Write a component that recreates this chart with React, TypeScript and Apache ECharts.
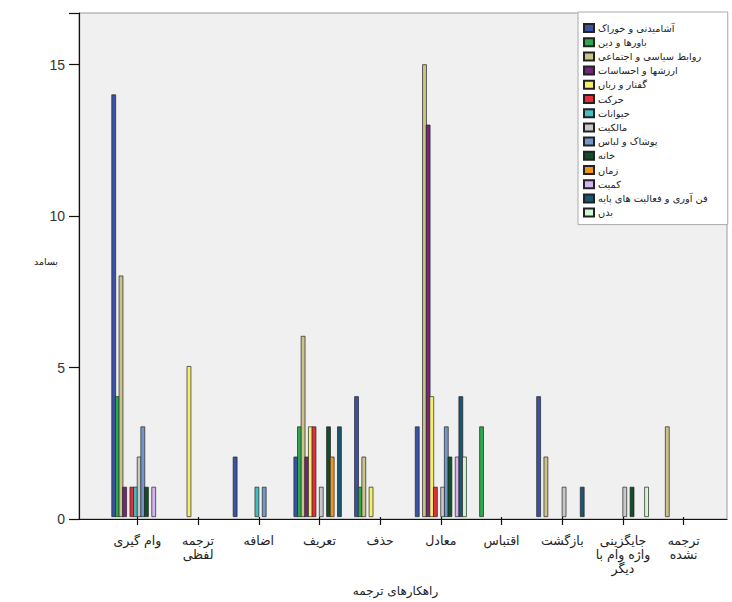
import React, { useEffect, useRef } from "react";
import * as echarts from "echarts";

const categories = [
  "وام گیری",
  "ترجمه\nلفظی",
  "اضافه",
  "تعریف",
  "حذف",
  "معادل",
  "اقتباس",
  "بازگشت",
  "جایگزینی\nواژه وام با\nدیگر",
  "ترجمه\nنشده",
];

const seriesNames = [
  "آشامیدنی و خوراک",
  "باورها و دین",
  "روابط سیاسی و اجتماعی",
  "ارزشها و احساسات",
  "گفتار و زبان",
  "حرکت",
  "حیوانات",
  "مالکیت",
  "پوشاک و لباس",
  "خانه",
  "زمان",
  "کمیت",
  "فن آوری و فعالیت های پایه",
  "بدن",
];

const foodValues = [14, 0, 2, 2, 4, 3, 0, 4, 0, 0];
const beliefValues = [4, 0, 0, 3, 1, 0, 3, 0, 0, 0];
const socialValues = [8, 0, 0, 6, 2, 15, 0, 2, 0, 3];
const emotionValues = [1, 0, 0, 2, 0, 13, 0, 0, 0, 0];
const speechValues = [0, 5, 0, 3, 1, 4, 0, 0, 0, 0];
const motionValues = [1, 0, 0, 3, 0, 1, 0, 0, 0, 0];
const animalValues = [1, 0, 1, 0, 0, 0, 0, 0, 0, 0];
const ownershipValues = [2, 0, 0, 1, 0, 1, 0, 1, 1, 0];
const clothingValues = [3, 0, 1, 0, 0, 3, 0, 0, 0, 0];
const houseValues = [1, 0, 0, 3, 0, 2, 0, 0, 1, 0];
const timeValues = [0, 0, 0, 2, 0, 0, 0, 0, 0, 0];
const quantityValues = [1, 0, 0, 0, 0, 2, 0, 0, 0, 0];
const technologyValues = [0, 0, 0, 3, 0, 4, 0, 1, 0, 0];
const bodyValues = [0, 0, 0, 0, 0, 2, 0, 0, 1, 0];

const allValues = [
  foodValues,
  beliefValues,
  socialValues,
  emotionValues,
  speechValues,
  motionValues,
  animalValues,
  ownershipValues,
  clothingValues,
  houseValues,
  timeValues,
  quantityValues,
  technologyValues,
  bodyValues,
];

const yTicks = [0, 5, 10, 15];

const colors = [
  "#3B53A4",
  "#2DA84A",
  "#CAC48C",
  "#74267A",
  "#F4F06E",
  "#E2303A",
  "#47BDC0",
  "#C8C8C8",
  "#7198C8",
  "#0F4F2A",
  "#F0941E",
  "#D4B4EE",
  "#1B5570",
  "#D2F7D2",
];

const FA = "DejaVu Sans";
const NUM = "Liberation Sans";

export default function App() {
  const ref = useRef<HTMLDivElement>(null);

  useEffect(() => {
    if (!ref.current) return;
    const chart = echarts.init(ref.current, null, { renderer: "svg" });
    const yMax = 16.7;
    chart.setOption({
      animation: false,
      backgroundColor: "#ffffff",
      grid: [
        {
          left: 79,
          right: 5,
          top: 13,
          bottom: 83,
          show: true,
          backgroundColor: "#F0F0F0",
          borderColor: "#9a9a9a",
          borderWidth: 1,
        },
        { left: 107, right: 18, top: 13, bottom: 83 },
      ],
      xAxis: [
        {
          gridIndex: 0,
          type: "value",
          min: 0,
          max: 1,
          axisLine: { show: true, onZero: false, lineStyle: { color: "#111", width: 1.2 } },
          axisTick: { show: false },
          axisLabel: { show: false },
          splitLine: { show: false },
        },
        {
          gridIndex: 1,
          type: "category",
          data: categories,
          axisLine: { show: false },
          axisTick: { show: true, alignWithLabel: true, length: 8, lineStyle: { color: "#111", width: 1.2 } },
          axisLabel: {
            interval: 0,
            margin: 16,
            fontSize: 12.5,
            lineHeight: 14,
            fontFamily: FA,
            color: "#222",
          },
          name: "راهکارهای ترجمه",
          nameLocation: "middle",
          nameGap: 68,
          nameMoveOverlap: false,
          nameTextStyle: { fontSize: 12, fontFamily: FA, color: "#222", padding: [0, 30, 0, 0] },
        },
      ],
      yAxis: [
        {
          gridIndex: 0,
          type: "value",
          min: yTicks[0],
          max: yMax,
          interval: yTicks[1] - yTicks[0],
          axisLine: { show: true, lineStyle: { color: "#111", width: 1.2 } },
          axisTick: { show: true, length: 10, lineStyle: { color: "#111", width: 1.2 } },
          axisLabel: {
            margin: 14,
            fontSize: 14,
            fontFamily: NUM,
            color: "#333",
            formatter: (v: number) => (yTicks.includes(v) ? String(v) : ""),
          },
          splitLine: { show: false },
          name: "بسامد",
          nameLocation: "middle",
          nameRotate: 0,
          nameGap: 21,
          nameMoveOverlap: false,
          nameTextStyle: { fontSize: 9.5, fontFamily: FA, color: "#222", verticalAlign: "bottom" },
        },
        {
          gridIndex: 1,
          type: "value",
          min: yTicks[0],
          max: yMax,
          show: false,
        },
      ],
      legend: {
        orient: "vertical",
        left: 578,
        top: 12,
        backgroundColor: "#ffffff",
        borderColor: "#aaaaaa",
        borderWidth: 1,
        padding: [11, 20, 7, 5],
        itemWidth: 10,
        itemHeight: 8,
        itemGap: 4.2,
        icon: "rect",
        selectedMode: false,
        textStyle: { fontSize: 9.8, fontFamily: FA, color: "#222", lineHeight: 8, padding: [0, 0, 0, -1] },
        data: seriesNames,
      },
      series: seriesNames.map((name, i) => ({
        name,
        type: "bar",
        xAxisIndex: 1,
        yAxisIndex: 1,
        barWidth: 4.6,
        barGap: "-21%",
        itemStyle: { color: colors[i], borderColor: "#222", borderWidth: 0.7 },
        data: allValues[i].map((v) => (v === 0 ? null : v)),
      })),
    });
    return () => chart.dispose();
  }, []);

  return (
    <div
      ref={ref}
      style={{ position: "fixed", left: 0, top: 0, width: 732, height: 602 }}
    />
  );
}
